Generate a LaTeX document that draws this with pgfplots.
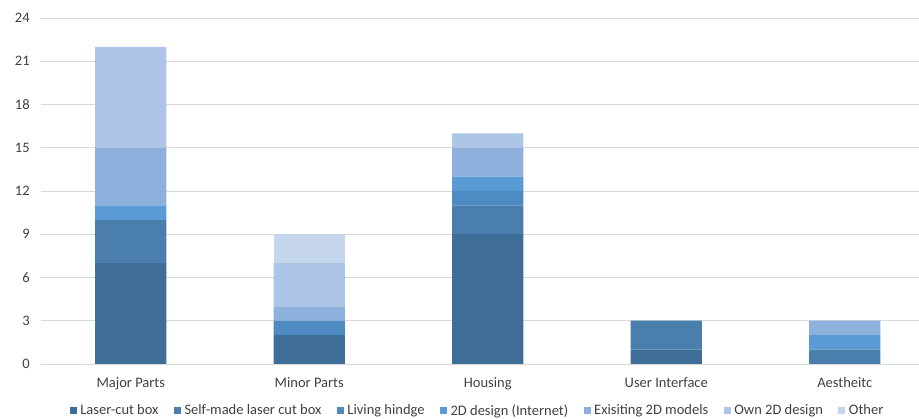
\documentclass[border=0pt]{standalone}
\usepackage{fontspec}
\setmainfont{Carlito}
\usepackage{pgfplots}
\usepackage{pgfplotstable}
\pgfplotsset{compat=1.18}

\definecolor{cLaser}{HTML}{3E6D97}
\definecolor{cSelf}{HTML}{4A7EAD}
\definecolor{cHinge}{HTML}{4E8BC3}
\definecolor{cNet}{HTML}{5B9BD5}
\definecolor{cExist}{HTML}{8DB0DD}
\definecolor{cOwn}{HTML}{ADC5E6}
\definecolor{cOther}{HTML}{C5D5EC}
\definecolor{gridgray}{HTML}{D9D9D9}
\definecolor{txtgray}{HTML}{404040}

% counts per category: 0 Major Parts, 1 Minor Parts, 2 Housing, 3 User Interface, 4 Aestheitc
\pgfplotstableread{
x laser self hinge net exist own other
0 7 3 0 1 4 7 0
1 2 0 1 0 1 3 2
2 9 2 1 1 2 1 0
3 1 2 0 0 0 0 0
4 0 1 0 1 1 0 0
}\datatable

\begin{document}
\fontsize{14}{16}\selectfont
\begin{tikzpicture}[x=1pt,y=1pt]
\useasboundingbox (0,0) rectangle (919,419);
\begin{axis}[
  at={(41.5pt,55pt)}, anchor=south west,
  scale only axis,
  width=877.5pt, height=346pt,
  ybar stacked,
  bar width=0.4,
  xmin=-0.5, xmax=4.416,
  ymin=0, ymax=24,
  ytick={0,3,...,24},
  xtick={0,1,2,3,4},
  xticklabels={Major Parts,Minor Parts,Housing,User Interface,Aestheitc},
  axis line style={draw=none},
  ymajorgrids,
  grid style={gridgray, line width=0.9pt},
  major tick length=0pt,
  tick label style={font=\fontsize{14.5}{16}\selectfont, text=txtgray},
  yticklabel style={xshift=-7pt},
  xticklabel style={yshift=-9pt},
  /pgf/number format/assume math mode=true,
  clip=false,
  legend columns=-1,
  legend style={
    at={(0.497,0)}, anchor=center, yshift=-47pt,
    draw=none, fill=none,
    font=\fontsize{14.5}{16}\selectfont, text=txtgray,
    /tikz/every odd column/.append style={column sep=1.5pt},
    /tikz/every even column/.append style={column sep=13.5pt},
  },
  legend image code/.code={\fill[#1] (0pt,-3.5pt) rectangle (7pt,3.5pt);},
  every axis plot/.append style={draw=none},
]
\addplot[fill=cLaser] table[x=x,y=laser]{\datatable};
\addlegendentry{Laser-cut box}
\addplot[fill=cSelf] table[x=x,y=self]{\datatable};
\addlegendentry{Self-made laser cut box}
\addplot[fill=cHinge] table[x=x,y=hinge]{\datatable};
\addlegendentry{Living hindge}
\addplot[fill=cNet] table[x=x,y=net]{\datatable};
\addlegendentry{2D design (Internet)}
\addplot[fill=cExist] table[x=x,y=exist]{\datatable};
\addlegendentry{Exisiting 2D models}
\addplot[fill=cOwn] table[x=x,y=own]{\datatable};
\addlegendentry{Own 2D design}
\addplot[fill=cOther] table[x=x,y=other]{\datatable};
\addlegendentry{Other}
\end{axis}
\end{tikzpicture}
\end{document}
